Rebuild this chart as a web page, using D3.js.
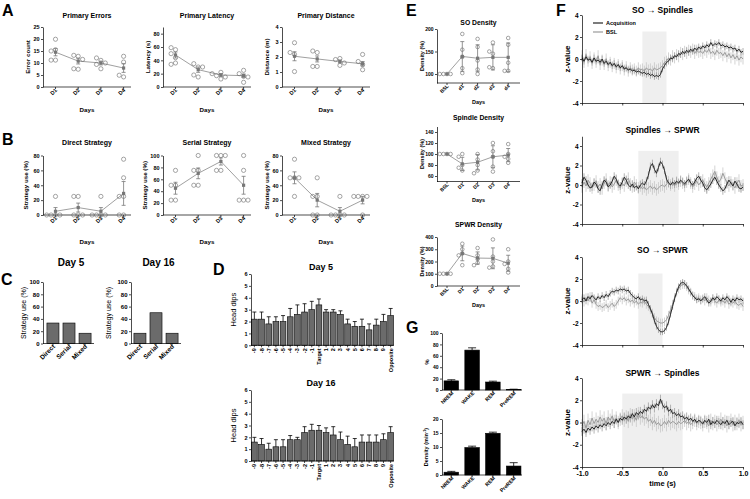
<!DOCTYPE html>
<html><head><meta charset="utf-8">
<script src="https://cdn.jsdelivr.net/npm/d3@7"></script>
<style>
body{margin:0;background:#fff}
svg{display:block}
</style></head><body>
<svg id="c" width="750" height="499"></svg>
<script>
// ---------------- DATA ----------------
const days = ["D1","D2","D3","D4"];
// Panel A
const errorsPts = [[15.5,19.9,11.2,11.2,15.0],[12.8,13.2,7.4,7.6,11.5],[11.1,12.1,7.6,9.4,10.0],[12.8,10.4,4.2,4.9]];
const errorsMean = [14.5,10.8,10.0,7.9];
const errorsSem = [1.5,1.2,0.8,1.8];
const latencyPts = [[56,59,50,44,36,34],[30,35,15,18,30],[22,17,12,15,20],[25,20,7,16,15]];
const latencyMean = [48,26,18,17];
const latencySem = [4.5,4,2,2.5];
const distancePts = [[2.95,2.17,2.3,1.03],[2.3,2.4,1.37,1.37],[1.9,1.83,1.44,1.6],[2.17,1.15,1.5,1.7]];
const distanceMean = [2.05,1.87,1.7,1.55];
const distanceSem = [0.3,0.2,0.1,0.15];
// Panel B
const directPts = [[25,0,0,0,0],[25,25,0,0,0],[25,0,0,0,0],[75,50,25,25,0,0]];
const directMean = [5,10,5,29];
const directSem = [5,6,5,16];
const serialPts = [[75,50,50,25,25],[100,75,75,50,50],[100,100,100,75,75],[100,75,25,25,25]];
const serialMean = [45,70,90,50];
const serialSem = [10,9,6,15];
const mixedPts = [[75,50,50,50,25],[50,25,25,0,0],[25,0,0,0,0],[25,25,25,25,0]];
const mixedMean = [50,20,5,20];
const mixedSem = [8,9,5,5];
// Panel C
const strategies = ["Direct","Serial","Mixed"];
const day5Use = [33.3,33.3,16.7];
const day16Use = [16.7,50,16.7];
// Panel D
const zones = ["-9","-8","-7","-6","-5","-4","-3","-2","-1","Target","1","2","3","4","5","6","7","8","9","Opposite"];
const dips5 = [2.2,2.2,1.8,2.0,2.0,2.4,2.6,2.8,3.0,3.4,2.8,2.8,2.6,1.8,1.6,1.6,1.3,1.7,2.0,2.5];
const dips5Sem = [0.6,0.6,0.6,0.4,0.5,0.7,0.8,0.7,0.7,0.5,0.2,0.2,0.3,0.4,0.4,0.6,0.5,0.5,0.6,0.6];
const dips16 = [1.6,1.4,1.0,1.2,1.2,1.8,1.8,2.4,2.6,2.6,2.4,2.2,1.8,1.4,1.2,1.6,1.6,1.6,1.8,2.4];
const dips16Sem = [0.4,0.5,0.5,0.6,0.6,0.35,0.2,0.5,0.5,0.4,0.4,0.7,0.65,0.7,0.7,0.6,0.6,0.6,0.5,0.5];
// Panel E
const eCatsSO = ["BSL","d1","d2","d3","d4"];
const eCats = ["BSL","D1","D2","D3","D4"];
const soPts = [[100,100,100,100],[189,154,138,113,102],[178,160,130,110,100],[170,145,150,113,115],[180,165,125,107,107]];
const soMean = [100,139,135,137,137];
const soSd = [0,33,30,28,32];
const spindlePts = [[100,100,100,100],[100,95,80,75,70],[100,90,80,70,65],[120,105,95,77,68],[118,100,95,91,84]];
const spindleMean = [100,82,85,95,98];
const spindleSd = [0,12,14,20,12];
const spwrPts = [[100,100,100,100],[345,300,265,250,170],[310,250,220,190,170],[380,240,200,160,150],[300,200,180,140,110]];
const spwrMean = [100,266,228,226,186];
const spwrSd = [0,60,50,85,65];
// Panel G
const states = ["NREM","WAKE","REM","PreREM"];
const statePct = [16,70,14,1];
const statePctSem = [2,4,1.5,0.4];
const stateDensity = [1.0,9.8,14.9,3.2];
const stateDensitySem = [0.3,0.5,0.4,1.2];
// Panel F (z-values sampled every 25 ms from -1 s to 1 s)
const f1Acq = [0.1,-0.2,0.2,-0.1,0.0,-0.3,0.1,-0.2,-0.1,-0.3, 0.0,-0.4,-0.2,-0.5,-0.3,-0.6,-0.4,-0.7,-0.5,-0.8, -0.6,-0.9,-0.8,-1.0,-0.9,-1.1,-1.0,-1.2,-1.1,-1.2, -1.3,-1.2,-1.4,-1.3,-1.5,-1.4,-1.6,-1.5,-1.6,-1.4, -0.9, -0.6,-0.3,-0.2,0.1,0.0,0.3,0.2,0.5,0.4, 0.7,0.5,0.8,0.6,0.9,0.7,1.0,0.8,1.1,0.9, 1.2,1.0,1.3,1.1,1.5,1.2,1.4,1.3,1.5,1.2, 1.3,1.1,1.2,1.0,1.1,0.9,1.0,0.7,0.9,0.6,0.7];
const f1Bsl = [0.3,-0.3,0.4,-0.2,0.2,-0.4,0.1,-0.3,0.3,-0.5, -0.1,-0.5,0.0,-0.6,-0.3,-0.7,-0.4,-0.8,-0.5,-0.9, -0.6,-1.0,-0.7,-1.1,-0.8,-1.0,-0.9,-1.1,-0.8,-1.0, -0.9,-1.1,-0.8,-1.0,-0.9,-1.1,-0.8,-1.0,-0.9,-0.8, -0.6, -0.3,-0.2,0.1,-0.1,0.3,0.1,0.4,0.2,0.6, 0.4,0.7,0.5,0.8,0.6,0.9,0.5,0.8,0.6,0.7, 0.5,0.8,0.6,0.9,0.5,0.7,0.4,0.8,0.5,0.6, 0.3,0.6,0.2,0.5,0.1,0.4,0.0,0.3,-0.1,0.2,0.0];
const f2Acq = [0.2,0.8,0.5,0.0,-0.3,-0.2,0.3,0.1,-0.4,-0.6, 0.0,0.5,0.3,-0.2,0.0,0.4,0.9,0.6,0.1,-0.1, 0.3,0.8,0.5,0.0,-0.2,0.1,-0.3,-0.1,-0.4,0.0, 0.2,0.0,0.4,1.0,1.9,2.2,1.6,1.2,1.8,2.4, 2.1, 1.5,0.6,0.2,0.0,0.3,0.1,0.4,0.2,0.5, 0.3,0.1,0.4,0.6,0.2,0.0,0.3,0.7,0.9,0.5, 0.2,-0.3,-0.5,-0.2,0.1,0.5,0.8,0.4,0.0,-0.3, -0.6,-0.4,0.1,0.5,0.2,-0.1,0.4,0.1,-0.3,-0.4,-0.2];
const f2Bsl = [-0.2,0.3,-0.1,0.5,0.2,-0.3,0.0,0.4,-0.2,0.1, -0.4,0.2,0.6,-0.1,0.3,-0.2,0.1,0.5,0.0,-0.3, 0.2,-0.1,0.4,0.7,0.1,-0.2,0.3,0.0,-0.3,-0.1, -0.4,-0.2,-0.5,-0.3,-0.1,-0.4,-0.2,-0.5,-0.3,-0.1, 0.0, -0.2,0.1,0.3,0.0,0.2,-0.1,0.3,0.1,0.4, 0.2,-0.1,0.3,0.6,0.2,-0.2,0.1,0.4,0.0,0.3, 0.5,0.1,-0.2,0.2,0.6,1.0,1.4,0.8,0.3,0.6, 1.2,0.7,0.2,-0.1,0.3,0.0,-0.3,0.2,0.5,-0.1,0.0];
const f3Acq = [0.1,0.3,0.0,0.4,0.2,0.5,0.3,0.1,0.4,0.2, 0.5,0.3,0.6,0.4,0.7,0.9,0.8,1.0,0.9,1.1, 1.0,1.1,0.9,1.0,0.7,0.5,0.3,0.2,0.4,0.1, 0.2,0.0,0.1,-0.3,-0.7,-1.2,-1.8,-2.3,-2.6,-2.8, -2.8, -2.7,-2.4,-1.9,-1.2,-0.5,0.2,0.8,1.3,1.6, 1.7,1.6,1.4,1.1,0.8,0.5,0.3,0.1,0.2,0.0, 0.2,0.4,0.1,-0.2,0.0,0.3,0.1,0.4,0.2,0.0, 0.3,0.1,0.4,0.2,-0.1,0.2,0.0,0.3,0.1,0.2,0.0];
const f3Bsl = [0.2,-0.1,0.3,0.0,0.4,-0.2,0.1,-0.3,-0.5,-0.4, -0.6,-0.5,-0.3,-0.6,-0.4,-0.2,-0.5,-0.3,0.0,0.3, 0.1,0.3,0.0,0.2,-0.1,0.1,-0.2,0.0,-0.3,-0.1, -0.2,0.0,-0.3,-0.5,-0.8,-1.1,-1.5,-1.8,-1.9,-2.0, -2.0, -1.9,-1.7,-1.3,-0.8,-0.3,0.3,0.8,1.1,1.4, 1.5,1.5,1.3,1.0,0.8,0.5,0.4,0.2,0.3,0.1, 0.2,0.0,0.3,0.1,-0.1,0.2,0.0,-0.2,0.1,-0.1, 0.0,-0.2,0.1,-0.3,-0.1,-0.2,0.0,-0.3,-0.4,-0.2,-0.5];
const f4Acq = [-0.8,-0.6,-0.9,-0.5,-0.7,-0.4,-0.6,-0.3,-0.5,-0.2, -0.4,-0.1,-0.3,0.0,-0.2,0.1,-0.1,0.3,0.0,0.4, 0.2,0.5,0.3,0.6,0.4,0.8,0.5,0.9,0.7,1.0, 0.8,1.2,1.0,1.4,1.2,1.6,1.3,1.7,1.5,2.1, 1.6, 1.3,1.5,1.0,1.2,0.8,0.9,0.6,0.8,0.5, 0.6,0.3,0.5,0.2,0.4,0.1,0.3,0.0,0.2,0.1, -0.1,0.2,0.0,0.3,-0.2,0.1,-0.1,0.2,0.0,-0.2, 0.1,-0.1,0.2,-0.2,0.0,0.1,-0.3,0.0,-0.1,0.1,-0.2];
const f4Bsl = [-0.3,0.1,-0.5,0.2,-0.2,0.4,-0.1,0.3,0.0,0.5, 0.1,0.4,-0.1,0.5,0.2,0.6,0.1,0.4,0.0,0.3, 0.6,0.2,0.5,0.1,0.7,0.3,0.6,0.2,0.8,0.4, 0.6,0.3,0.5,0.1,0.3,-0.1,0.2,-0.2,0.0,-0.3, -0.2, 0.1,-0.2,0.2,-0.1,0.1,0.0,-0.2,0.1,-0.1, 0.0,0.2,-0.1,0.1,-0.2,0.0,0.2,-0.1,0.1,0.0, -0.2,0.1,0.0,-0.3,0.2,-0.1,0.1,-0.2,0.0,0.3, -0.1,0.1,-0.3,0.0,0.2,-0.2,0.1,-0.1,0.2,-0.2,0.0];
const fSem = [[0.3,0.5],[0.4,0.6],[0.3,0.4],[0.4,0.6]]; // [acquisition, BSL]
const fWindows = [[-0.25,0.05,2.5],[-0.3,0.2,3.5],[-0.3,0.0,2.5],[-0.5,0.25,2.6]];
const fTitles = ["SO \u2192 Spindles","Spindles \u2192 SPWR","SO \u2192 SPWR","SPWR \u2192 Spindles"];
const fTicksX = [-1,-0.5,0,0.5,1];
const fTicksY = [-4,-2,0,2,4];

// ---------------- HELPERS ----------------
const FONT = '"Liberation Sans", Arial, Helvetica, sans-serif';
const svg = d3.select("#c");
svg.append("rect").attr("width",750).attr("height",499).attr("fill","#fff");

function txt(g, x, y, s, size, o = {}) {
  const t = g.append("text").attr("x", x).attr("y", y).text(s)
    .attr("font-size", size).attr("font-weight", o.weight || "bold")
    .attr("font-family", FONT).attr("text-anchor", o.anchor || "middle").attr("fill", "#000");
  if (o.rot != null) t.attr("transform", `rotate(${o.rot},${x},${y})`);
  return t;
}
function yAxis(g, x, y, ticks, size, fmt) {
  const a = g.append("g").attr("transform", `translate(${x},0)`)
    .call(d3.axisLeft(y).tickValues(ticks).tickSize(2).tickSizeOuter(0).tickPadding(1.5)
      .tickFormat(fmt || (d => String(d))));
  a.selectAll("path,line").attr("stroke", "#000").attr("stroke-width", 0.7);
  a.selectAll("text").attr("font-size", size).attr("font-weight", "bold")
    .attr("font-family", FONT).attr("fill", "#000");
  return a;
}
function hline(g, x1, x2, y) {
  g.append("line").attr("x1", x1).attr("x2", x2).attr("y1", y).attr("y2", y)
    .attr("stroke", "#000").attr("stroke-width", 0.7);
}
function panelLetter(x, y, s) { txt(svg, x, y, s, 16, {anchor: "start"}); }

function dotPlot(o) {
  const g = svg.append("g");
  const y = d3.scaleLinear().domain(o.domain).range([o.yBot, o.yTop]);
  const x = d3.scalePoint().domain(o.cats)
    .range([o.x0 + o.first, o.x0 + o.first + o.step * (o.cats.length - 1)]);
  yAxis(g, o.x0, y, o.ticks, o.tick);
  hline(g, o.x0, o.x0 + o.w, o.yBot);
  o.cats.forEach(c => {
    g.append("line").attr("x1", x(c)).attr("x2", x(c)).attr("y1", o.yBot).attr("y2", o.yBot + 2)
      .attr("stroke", "#000").attr("stroke-width", 0.7);
    txt(g, x(c) + 2, o.yBot + 3.5, c, o.tick, {anchor: "end", rot: -45});
  });
  txt(g, o.x0 + o.w / 2, o.titleY, o.title, o.titleSize);
  txt(g, o.ylabX, (o.yTop + o.yBot) / 2, o.ylab, o.ylabSize, {rot: -90});
  txt(g, o.x0 + o.w / 2, o.daysY, "Days", o.ylabSize);
  const line = d3.line().x((d, i) => x(o.cats[i])).y(d => y(d));
  g.append("path").attr("d", line(o.mean)).attr("fill", "none").attr("stroke", "#888").attr("stroke-width", 0.8);
  o.pts.forEach((arr, i) => {
    const cx = x(o.cats[i]);
    const placed = [];
    arr.forEach(v => {
      const py = y(v);
      let off = 0;
      for (let k = 0; k < 14; k++) {
        const cand = k === 0 ? 0 : (k % 2 ? -1 : 1) * Math.ceil(k / 2) * o.spread;
        if (!placed.some(p => Math.abs(p.y - py) < o.r * 2 && Math.abs(p.x - cand) < o.spread - 0.1)) { off = cand; break; }
      }
      placed.push({x: off, y: py});
      g.append("circle").attr("cx", cx + off).attr("cy", py).attr("r", o.r)
        .attr("fill", "none").attr("stroke", "#6a6a6a").attr("stroke-width", 0.6);
    });
    const m = o.mean[i], e = o.sem[i];
    if (e > 0) {
      g.append("line").attr("x1", cx).attr("x2", cx).attr("y1", y(m - e)).attr("y2", y(m + e))
        .attr("stroke", "#777").attr("stroke-width", 0.8);
      [m - e, m + e].forEach(v => g.append("line").attr("x1", cx - 2).attr("x2", cx + 2)
        .attr("y1", y(v)).attr("y2", y(v)).attr("stroke", "#777").attr("stroke-width", 0.8));
    }
    g.append("rect").attr("x", cx - 1.6).attr("y", y(m) - 1.6).attr("width", 3.2).attr("height", 3.2).attr("fill", "#777");
  });
}

function barPlot(o) {
  const g = svg.append("g");
  const y = d3.scaleLinear().domain(o.domain).range([o.yBot, o.yTop]);
  const x = d3.scaleBand().domain(o.cats).range([o.xa, o.xb]).paddingInner(o.pad).paddingOuter(o.padOut || 0);
  g.selectAll("rect.bar").data(o.vals).enter().append("rect")
    .attr("x", (d, i) => x(o.cats[i])).attr("width", x.bandwidth())
    .attr("y", d => y(d)).attr("height", d => o.yBot - y(d))
    .attr("fill", o.fill).attr("stroke", "#000").attr("stroke-width", 0.6);
  if (o.errs) o.vals.forEach((v, i) => {
    const cx = x(o.cats[i]) + x.bandwidth() / 2, t = y(v + o.errs[i]);
    g.append("line").attr("x1", cx).attr("x2", cx).attr("y1", y(v)).attr("y2", t).attr("stroke", "#000").attr("stroke-width", 0.8);
    g.append("line").attr("x1", cx - o.cap).attr("x2", cx + o.cap).attr("y1", t).attr("y2", t).attr("stroke", "#000").attr("stroke-width", 0.8);
  });
  yAxis(g, o.x0, y, o.ticks, o.tick);
  hline(g, o.x0, o.xEnd, o.yBot);
  o.cats.forEach(c => {
    const cx = x(c) + x.bandwidth() / 2;
    g.append("line").attr("x1", cx).attr("x2", cx).attr("y1", o.yBot).attr("y2", o.yBot + 2)
      .attr("stroke", "#000").attr("stroke-width", 0.7);
    if (o.vertical) txt(g, cx + 2, o.yBot + 3, c, o.catSize, {anchor: "end", rot: -90, weight: o.catWeight});
    else txt(g, cx + 2.5, o.yBot + 3.5, c, o.catSize, {anchor: "end", rot: -45, weight: o.catWeight});
  });
  if (o.title) txt(g, o.titleX, o.titleY, o.title, o.titleSize);
  return {g, y};
}

// ---------------- PANEL A ----------------
panelLetter(2, 15.5, "A");
const aBase = {first: 12.5, step: 22.7, w: 88, yBot: 87, yTop: 27, tick: 5.5, titleY: 17.5, titleSize: 7,
  ylabSize: 6.2, daysY: 112, r: 2.1, spread: 4.4, cats: days};
dotPlot(Object.assign({}, aBase, {x0: 43, domain: [0, 25], ticks: [0,5,10,15,20,25], title: "Primary Errors",
  ylab: "Error count", ylabX: 30, pts: errorsPts, mean: errorsMean, sem: errorsSem}));
dotPlot(Object.assign({}, aBase, {x0: 163, domain: [0, 90], ticks: [0,20,40,60,80], title: "Primary Latency",
  ylab: "Latency (s)", ylabX: 150, pts: latencyPts, mean: latencyMean, sem: latencySem}));
dotPlot(Object.assign({}, aBase, {x0: 282, domain: [0, 4], ticks: [0,1,2,3,4], title: "Primary Distance",
  ylab: "Distance (m)", ylabX: 269, pts: distancePts, mean: distanceMean, sem: distanceSem}));

// ---------------- PANEL B ----------------
panelLetter(2, 145, "B");
const bBase = Object.assign({}, aBase, {yBot: 215, yTop: 155.5, titleY: 144.5, daysY: 244, ylab: "Strategy use (%)"});
dotPlot(Object.assign({}, bBase, {x0: 43, domain: [0, 80], ticks: [0,20,40,60,80], title: "Direct Strategy",
  ylabX: 28, pts: directPts, mean: directMean, sem: directSem}));
dotPlot(Object.assign({}, bBase, {x0: 163, domain: [0, 100], ticks: [0,20,40,60,80,100], title: "Serial Strategy",
  ylabX: 147, pts: serialPts, mean: serialMean, sem: serialSem}));
dotPlot(Object.assign({}, bBase, {x0: 282, domain: [0, 80], ticks: [0,20,40,60,80], title: "Mixed Strategy",
  ylabX: 269, pts: mixedPts, mean: mixedMean, sem: mixedSem}));

// ---------------- PANEL C ----------------
panelLetter(1, 285, "C");
[[43, 45, 93, day5Use, "Day 5", 26], [131, 132, 180, day16Use, "Day 16", 111]].forEach(([x0, xa, xb, vals, title, lx]) => {
  const r = barPlot({x0, xa, xb, xEnd: xb + 1, cats: strategies, vals, pad: 0.25, padOut: 0.12, domain: [0, 100],
    yBot: 343.5, yTop: 282, ticks: [0,20,40,60,80,100], tick: 6, fill: "#6b6b6b", catSize: 6.5,
    title, titleX: (x0 + xb) / 2 + 3, titleY: 266, titleSize: 10});
  txt(r.g, lx, 313, "Strategy use (%)", 7, {rot: -90, weight: "normal"});
});

// ---------------- PANEL D ----------------
panelLetter(213, 275, "D");
[[dips5, dips5Sem, 345.3, 274, "Day 5", 270], [dips16, dips16Sem, 461, 390, "Day 16", 386]].forEach(([vals, errs, yBot, yTop, title, ty]) => {
  const r = barPlot({x0: 251, xa: 251.5, xb: 393.5, xEnd: 394, cats: zones, vals, errs, cap: 2, pad: 0.2, domain: [0, 6],
    yBot, yTop, ticks: [0,1,2,3,4,5,6], tick: 5.5, fill: "#6b6b6b", catSize: 5.5, vertical: true,
    title, titleX: 321, titleY: ty, titleSize: 9});
  txt(r.g, 236, (yTop + yBot) / 2, "Head dips", 7.5, {rot: -90, weight: "normal"});
});

// ---------------- PANEL E ----------------
panelLetter(406, 15.5, "E");
const eBase = {x0: 437, first: 10, step: 15.3, w: 83, tick: 5, titleSize: 6.8, ylabSize: 5.5, r: 1.8, spread: 3.6};
dotPlot(Object.assign({}, eBase, {cats: eCatsSO, yBot: 83, yTop: 29, domain: [80, 200], ticks: [100,150,200],
  title: "SO Density", titleY: 25, daysY: 104, ylab: "Density (%)", ylabX: 424, pts: soPts, mean: soMean, sem: soSd}));
dotPlot(Object.assign({}, eBase, {cats: eCats, yBot: 181.5, yTop: 126.5, domain: [50, 150], ticks: [60,80,100,120,140],
  title: "Spindle Density", titleY: 120, daysY: 202, ylab: "Density (%)", ylabX: 424, pts: spindlePts, mean: spindleMean, sem: spindleSd}));
dotPlot(Object.assign({}, eBase, {cats: eCats, yBot: 286, yTop: 237, domain: [0, 400], ticks: [0,100,200,300,400],
  title: "SPWR Density", titleY: 227, daysY: 307, ylab: "Density (%)", ylabX: 424, pts: spwrPts, mean: spwrMean, sem: spwrSd}));

// ---------------- PANEL G ----------------
panelLetter(406, 333, "G");
const gTop = barPlot({x0: 442, xa: 443, xb: 522, xEnd: 522, cats: states, vals: statePct, errs: statePctSem, cap: 4,
  pad: 0.3, padOut: 0.05, domain: [0, 100], yBot: 390, yTop: 333, ticks: [0,20,40,60,80,100], tick: 5, fill: "#000", catSize: 5.2});
txt(gTop.g, 429, 362, "%", 6, {rot: -90});
const gBot = barPlot({x0: 442, xa: 443, xb: 522, xEnd: 522, cats: states, vals: stateDensity, errs: stateDensitySem, cap: 4,
  pad: 0.3, padOut: 0.05, domain: [0, 20], yBot: 475, yTop: 419, ticks: [0,5,10,15,20], tick: 5, fill: "#000", catSize: 5.2});
const dl = txt(gBot.g, 428, 447, "Density (min", 5.5, {rot: -90});
dl.append("tspan").attr("baseline-shift", "super").attr("font-size", 4).text("-1");
dl.append("tspan").text(")");

// ---------------- PANEL F ----------------
panelLetter(556, 15.5, "F");
const fTime = d3.range(81).map(i => -1 + i * 0.025);
const fx = d3.scaleLinear().domain([-1, 1]).range([582, 743]);
const fCharts = [
  {acq: f1Acq, bsl: f1Bsl, domain: [-4, 4], yBot: 103, yTop: 15, titleY: 12.5},
  {acq: f2Acq, bsl: f2Bsl, domain: [-4, 5], yBot: 224, yTop: 136.25, titleY: 133},
  {acq: f3Acq, bsl: f3Bsl, domain: [-4, 4], yBot: 345, yTop: 257, titleY: 253},
  {acq: f4Acq, bsl: f4Bsl, domain: [-4, 4], yBot: 467, yTop: 378, titleY: 376}
];
fCharts.forEach((c, ci) => {
  const g = svg.append("g");
  const y = d3.scaleLinear().domain(c.domain).range([c.yBot, c.yTop]);
  const w = fWindows[ci];
  g.append("rect").attr("x", fx(w[0])).attr("width", fx(w[1]) - fx(w[0]))
    .attr("y", y(w[2])).attr("height", y(-4) - y(w[2])).attr("fill", "#efefef");
  const series = [[c.bsl, fSem[ci][1], "#c8c8c8"], [c.acq, fSem[ci][0], "#a0a0a0"]];
  series.forEach(([vals, sem, col]) => {
    g.selectAll(null).data(vals).enter().append("line")
      .attr("x1", (d, i) => fx(fTime[i])).attr("x2", (d, i) => fx(fTime[i]))
      .attr("y1", d => y(d - sem)).attr("y2", d => y(d + sem))
      .attr("stroke", col).attr("stroke-width", 0.8);
  });
  const line = d3.line().x((d, i) => fx(fTime[i])).y(d => y(d));
  g.append("path").attr("d", line(c.bsl)).attr("fill", "none").attr("stroke", "#9a9a9a").attr("stroke-width", 1);
  g.append("path").attr("d", line(c.acq)).attr("fill", "none").attr("stroke", "#262626").attr("stroke-width", 1);
  yAxis(g, 582, y, fTicksY, 6.5);
  const xa = g.append("g").attr("transform", `translate(0,${c.yBot})`)
    .call(d3.axisBottom(fx).tickValues(fTicksX).tickSize(2.5).tickSizeOuter(0).tickPadding(2)
      .tickFormat(ci === 3 ? (d => d.toFixed(1)) : ""));
  xa.selectAll("path,line").attr("stroke", "#000").attr("stroke-width", 0.7);
  xa.selectAll("text").attr("font-size", 7).attr("font-weight", "bold").attr("font-family", FONT).attr("fill", "#000");
  txt(g, 662.5, c.titleY, fTitles[ci], 8.5);
  txt(g, 570, (c.yTop + c.yBot) / 2, "z-value", 8, {rot: -90});
});
txt(svg, 662.5, 486, "time (s)", 7.5);
// legend
[["Acquisition", "#262626", 23], ["BSL", "#9a9a9a", 32]].forEach(([s, col, ly]) => {
  svg.append("line").attr("x1", 593).attr("x2", 603).attr("y1", ly).attr("y2", ly).attr("stroke", col).attr("stroke-width", 1.2);
  txt(svg, 606, ly + 2, s, 5.5, {anchor: "start"});
});
</script>
</body></html>
